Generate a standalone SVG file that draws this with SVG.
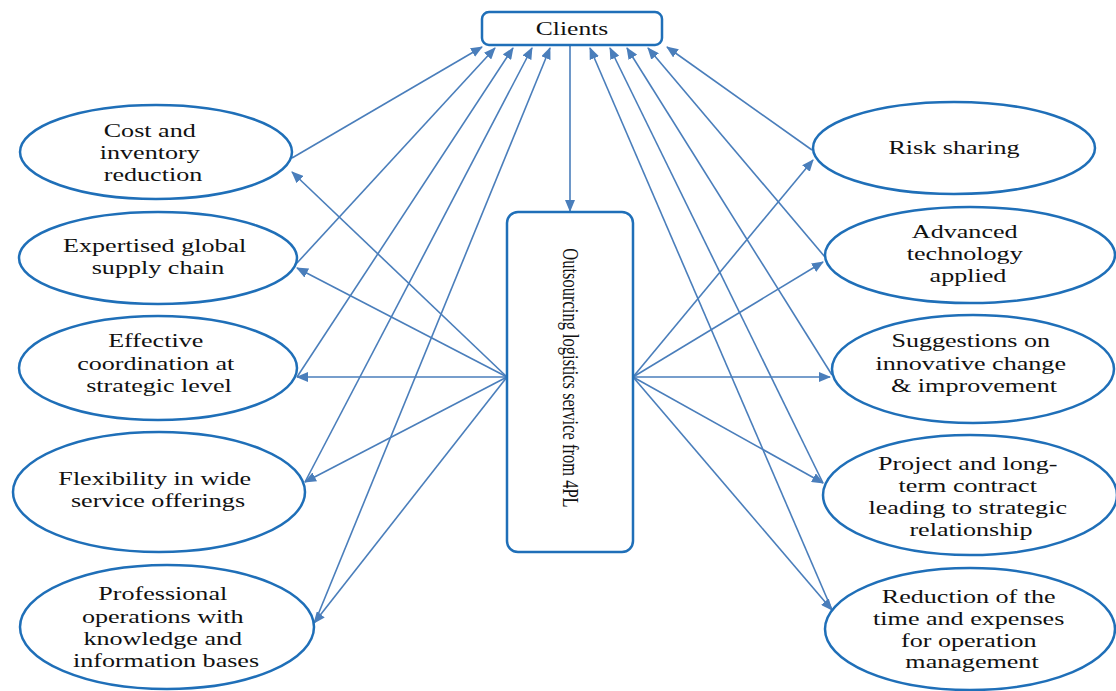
<svg xmlns="http://www.w3.org/2000/svg" width="1116" height="691" viewBox="0 0 1116 691">
  <defs>
    <marker id="arrow" viewBox="0 0 12 10" refX="11" refY="5" markerWidth="12" markerHeight="10" markerUnits="userSpaceOnUse" orient="auto">
      <path d="M0,0 L12,5 L0,10 Z" fill="#4a7ebb"/>
    </marker>
    <style>
      .node { fill: #ffffff; stroke: #1f6fb8; stroke-width: 2.5; }
      .label { font-family: "Liberation Serif", "Times New Roman", serif; font-size: 18px; fill: #111111; text-anchor: middle; }
      .link { fill: none; stroke: #4a7ebb; stroke-width: 1.6; marker-end: url(#arrow); }
    </style>
  </defs>
  <rect width="1116" height="691" fill="#ffffff"/>

  <!-- connectors -->
  <g id="connectors">
    <!-- left benefits up to Clients -->
    <line class="link" x1="292" y1="158" x2="482" y2="47"/>
    <line class="link" x1="297" y1="263" x2="495" y2="48"/>
    <line class="link" x1="297" y1="377" x2="513" y2="48"/>
    <line class="link" x1="305" y1="482" x2="532" y2="48"/>
    <line class="link" x1="315" y1="622" x2="550" y2="48"/>
    <!-- right benefits up to Clients -->
    <line class="link" x1="812" y1="150" x2="667" y2="47"/>
    <line class="link" x1="825" y1="257" x2="648" y2="48"/>
    <line class="link" x1="832" y1="375" x2="627" y2="48"/>
    <line class="link" x1="823" y1="483" x2="610" y2="48"/>
    <line class="link" x1="832" y1="610" x2="590" y2="48"/>
    <!-- Clients down to the 4PL service -->
    <line class="link" x1="570" y1="45" x2="570" y2="211"/>
    <!-- 4PL service out to left benefits -->
    <line class="link" x1="507" y1="377" x2="292" y2="172"/>
    <line class="link" x1="507" y1="377" x2="297" y2="268"/>
    <line class="link" x1="507" y1="377" x2="297" y2="377"/>
    <line class="link" x1="507" y1="377" x2="305" y2="482"/>
    <line class="link" x1="507" y1="377" x2="314" y2="623"/>
    <!-- 4PL service out to right benefits -->
    <line class="link" x1="633" y1="377" x2="813" y2="160"/>
    <line class="link" x1="633" y1="377" x2="823" y2="262"/>
    <line class="link" x1="633" y1="377" x2="830" y2="377"/>
    <line class="link" x1="633" y1="377" x2="823" y2="483"/>
    <line class="link" x1="633" y1="377" x2="832" y2="610"/>
  </g>

  <g id="clients">
    <rect class="node" x="482" y="12" width="180" height="33" rx="7"/>
    <text class="label" transform="translate(572 0) scale(1.42 1)"><tspan x="0" y="35">Clients</tspan></text>
  </g>

  <g id="service-4pl">
    <rect class="node" x="507" y="212" width="126" height="340" rx="11"/>
    <text class="label" style="font-size:16.5px" transform="translate(562.5 378) scale(1.45 1) rotate(90)" x="0" y="0">Outsourcing logistics service from 4PL</text>
  </g>

  <!-- left-hand benefits -->
  <g id="cost-inventory">
    <ellipse class="node" cx="156" cy="152" rx="136" ry="47"/>
    <text class="label" transform="translate(153 0) scale(1.45 1)">
      <tspan x="0" y="137">Cost and</tspan>
      <tspan x="0" y="159">inventory</tspan>
      <tspan x="0" y="181">reduction</tspan>
    </text>
  </g>

  <g id="global-supply-chain">
    <ellipse class="node" cx="158" cy="258" rx="139" ry="46"/>
    <text class="label" transform="translate(158 0) scale(1.45 1)">
      <tspan x="0" y="252">Expertised global</tspan>
      <tspan x="0" y="274">supply chain</tspan>
    </text>
  </g>

  <g id="strategic-coordination">
    <ellipse class="node" cx="158" cy="368" rx="139" ry="52"/>
    <text class="label" transform="translate(159 0) scale(1.45 1)">
      <tspan x="0" y="347">Effective</tspan>
      <tspan x="0" y="370">coordination at</tspan>
      <tspan x="0" y="392">strategic level</tspan>
    </text>
  </g>

  <g id="service-flexibility">
    <ellipse class="node" cx="159" cy="492" rx="146" ry="60"/>
    <text class="label" transform="translate(158 0) scale(1.45 1)">
      <tspan x="0" y="485">Flexibility in wide</tspan>
      <tspan x="0" y="507">service offerings</tspan>
    </text>
  </g>

  <g id="professional-operations">
    <ellipse class="node" cx="167" cy="627" rx="147" ry="62"/>
    <text class="label" transform="translate(166 0) scale(1.45 1)">
      <tspan x="0" y="600">Professional</tspan>
      <tspan x="0" y="623">operations with</tspan>
      <tspan x="0" y="645">knowledge and</tspan>
      <tspan x="0" y="667">information bases</tspan>
    </text>
  </g>

  <!-- right-hand benefits -->
  <g id="risk-sharing">
    <ellipse class="node" cx="954" cy="148" rx="141" ry="46"/>
    <text class="label" transform="translate(954 0) scale(1.45 1)">
      <tspan x="0" y="154">Risk sharing</tspan>
    </text>
  </g>

  <g id="advanced-technology">
    <ellipse class="node" cx="970" cy="255" rx="145" ry="48"/>
    <text class="label" transform="translate(968 0) scale(1.45 1)">
      <tspan x="0" y="238">Advanced</tspan>
      <tspan x="0" y="260">technology</tspan>
      <tspan x="0" y="282">applied</tspan>
    </text>
  </g>

  <g id="innovative-change">
    <ellipse class="node" cx="973" cy="369" rx="141" ry="54"/>
    <text class="label" transform="translate(974 0) scale(1.45 1)">
      <tspan x="0" y="347">Suggestions on</tspan>
      <tspan x="0" y="370">innovative change</tspan>
      <tspan x="0" y="392">&amp; improvement</tspan>
    </text>
  </g>

  <g id="long-term-contract">
    <ellipse class="node" cx="970" cy="495" rx="147" ry="60"/>
    <text class="label" transform="translate(971 0) scale(1.45 1)">
      <tspan x="0" y="470">Project and long-</tspan>
      <tspan x="0" y="492">term contract</tspan>
      <tspan x="0" y="514">leading to strategic</tspan>
      <tspan x="0" y="536">relationship</tspan>
    </text>
  </g>

  <g id="time-expense-reduction">
    <ellipse class="node" cx="970" cy="629" rx="145" ry="61"/>
    <text class="label" transform="translate(972 0) scale(1.45 1)">
      <tspan x="0" y="603">Reduction of the</tspan>
      <tspan x="0" y="625">time and expenses</tspan>
      <tspan x="0" y="647">for operation</tspan>
      <tspan x="0" y="668">management</tspan>
    </text>
  </g>
</svg>
